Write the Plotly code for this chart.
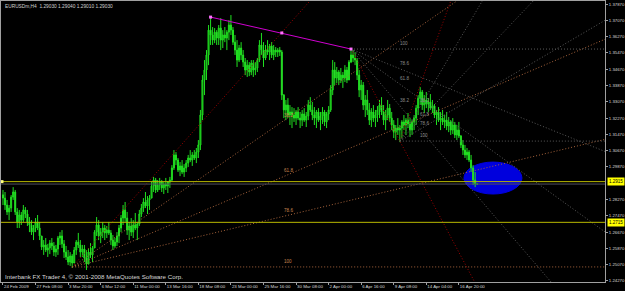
import plotly.graph_objects as go

# ---------------- data (EURUSDm, H4) ----------------
highs = [1.2874,1.2864,1.2825,1.2800,1.2849,1.2888,1.2874,1.2785,1.2776,1.2766,
         1.2800,1.2790,1.2776,1.2741,1.2726,1.2702,1.2736,1.2751,1.2717,1.2648,
         1.2628,1.2638,1.2609,1.2628,1.2638,1.2618,1.2604,1.2648,1.2667,1.2677,
         1.2628,1.2599,1.2579,1.2569,1.2559,1.2594,1.2628,1.2663,1.2628,1.2604,
         1.2604,1.2579,1.2589,1.2613,1.2599,1.2677,1.2741,1.2726,1.2687,1.2717,
         1.2702,1.2697,1.2717,1.2677,1.2653,1.2638,1.2667,1.2702,1.2751,1.2800,
         1.2815,1.2766,1.2717,1.2736,1.2726,1.2761,1.2717,1.2776,1.2805,1.2834,
         1.2864,1.2844,1.2849,1.2913,1.2938,1.2933,1.2923,1.2933,1.2923,1.2913,
         1.2933,1.2918,1.2938,1.2996,1.3070,1.3060,1.3031,1.3011,1.3021,1.3001,
         1.3021,1.3046,1.3070,1.3060,1.3070,1.3080,1.3119,1.3267,1.3438,1.3512,
         1.3561,1.3684,1.3723,1.3674,1.3669,1.3659,1.3684,1.3718,1.3659,1.3674,
         1.3659,1.3708,1.3733,1.3674,1.3635,1.3610,1.3586,1.3600,1.3561,1.3522,
         1.3512,1.3502,1.3512,1.3512,1.3502,1.3522,1.3610,1.3645,1.3600,1.3586,
         1.3610,1.3591,1.3600,1.3586,1.3576,1.3571,1.3576,1.3561,1.3345,1.3316,
         1.3325,1.3291,1.3281,1.3276,1.3267,1.3281,1.3257,1.3267,1.3276,1.3257,
         1.3316,1.3330,1.3306,1.3281,1.3267,1.3276,1.3257,1.3281,1.3267,1.3257,
         1.3286,1.3389,1.3512,1.3502,1.3478,1.3463,1.3473,1.3453,1.3487,1.3478,
         1.3512,1.3566,1.3561,1.3551,1.3522,1.3463,1.3414,1.3404,1.3340,1.3365,
         1.3301,1.3276,1.3291,1.3267,1.3286,1.3316,1.3330,1.3291,1.3267,1.3316,
         1.3296,1.3257,1.3217,1.3193,1.3227,1.3193,1.3217,1.3242,1.3227,1.3252,
         1.3227,1.3217,1.3242,1.3291,1.3340,1.3379,1.3365,1.3340,1.3355,1.3325,
         1.3345,1.3316,1.3296,1.3267,1.3281,1.3257,1.3267,1.3242,1.3257,1.3232,
         1.3217,1.3227,1.3208,1.3193,1.3208,1.3144,1.3119,1.3095,1.3080,1.3070,
         1.3046,1.2996,1.2962,1.2904]
lows = [1.2800,1.2776,1.2751,1.2726,1.2766,1.2825,1.2751,1.2687,1.2687,1.2702,
        1.2717,1.2736,1.2697,1.2667,1.2653,1.2628,1.2667,1.2677,1.2628,1.2579,
        1.2555,1.2569,1.2545,1.2559,1.2579,1.2550,1.2545,1.2555,1.2604,1.2589,
        1.2540,1.2530,1.2505,1.2501,1.2491,1.2520,1.2555,1.2589,1.2545,1.2545,
        1.2520,1.2481,1.2510,1.2540,1.2520,1.2589,1.2648,1.2628,1.2613,1.2638,
        1.2628,1.2638,1.2653,1.2604,1.2579,1.2589,1.2599,1.2613,1.2667,1.2702,
        1.2717,1.2653,1.2628,1.2648,1.2638,1.2677,1.2628,1.2697,1.2741,1.2766,
        1.2785,1.2756,1.2776,1.2834,1.2864,1.2859,1.2864,1.2874,1.2864,1.2854,
        1.2874,1.2859,1.2884,1.2913,1.2972,1.2996,1.2962,1.2942,1.2952,1.2938,
        1.2962,1.2987,1.3011,1.2992,1.3021,1.3006,1.3031,1.3070,1.3217,1.3340,
        1.3414,1.3487,1.3586,1.3586,1.3595,1.3586,1.3586,1.3561,1.3571,1.3600,
        1.3561,1.3610,1.3635,1.3586,1.3537,1.3478,1.3502,1.3512,1.3478,1.3438,
        1.3429,1.3433,1.3438,1.3429,1.3438,1.3453,1.3502,1.3537,1.3478,1.3512,
        1.3537,1.3512,1.3522,1.3512,1.3527,1.3527,1.3532,1.3316,1.3227,1.3217,
        1.3227,1.3193,1.3178,1.3208,1.3193,1.3217,1.3178,1.3188,1.3208,1.3183,
        1.3217,1.3257,1.3217,1.3193,1.3178,1.3208,1.3168,1.3198,1.3188,1.3178,
        1.3217,1.3257,1.3340,1.3389,1.3399,1.3389,1.3399,1.3375,1.3404,1.3399,
        1.3414,1.3497,1.3502,1.3487,1.3414,1.3330,1.3316,1.3267,1.3232,1.3242,
        1.3193,1.3183,1.3208,1.3183,1.3208,1.3227,1.3242,1.3193,1.3168,1.3217,
        1.3208,1.3168,1.3129,1.3119,1.3144,1.3109,1.3129,1.3168,1.3144,1.3178,
        1.3134,1.3144,1.3168,1.3193,1.3242,1.3291,1.3267,1.3252,1.3276,1.3257,
        1.3267,1.3252,1.3227,1.3193,1.3208,1.3168,1.3193,1.3178,1.3168,1.3158,
        1.3144,1.3149,1.3129,1.3119,1.3129,1.3080,1.3046,1.3031,1.3021,1.3011,
        1.2962,1.2898,1.2888,1.2901]
closes = [1.2834,1.2800,1.2766,1.2785,1.2839,1.2864,1.2766,1.2717,1.2751,1.2726,
          1.2776,1.2756,1.2717,1.2702,1.2667,1.2687,1.2717,1.2687,1.2648,1.2594,
          1.2604,1.2579,1.2589,1.2613,1.2599,1.2569,1.2584,1.2638,1.2648,1.2609,
          1.2569,1.2545,1.2520,1.2550,1.2515,1.2579,1.2618,1.2604,1.2569,1.2584,
          1.2540,1.2510,1.2569,1.2555,1.2589,1.2667,1.2702,1.2648,1.2667,1.2687,
          1.2663,1.2677,1.2663,1.2628,1.2599,1.2618,1.2648,1.2687,1.2736,1.2776,
          1.2736,1.2677,1.2697,1.2667,1.2702,1.2687,1.2707,1.2756,1.2785,1.2815,
          1.2795,1.2825,1.2834,1.2893,1.2923,1.2874,1.2898,1.2913,1.2884,1.2903,
          1.2893,1.2913,1.2923,1.2982,1.3046,1.3021,1.2972,1.2992,1.2962,1.2982,
          1.3006,1.3031,1.3021,1.3046,1.3031,1.3060,1.3095,1.3242,1.3414,1.3463,
          1.3537,1.3659,1.3635,1.3610,1.3649,1.3620,1.3669,1.3610,1.3635,1.3620,
          1.3649,1.3684,1.3659,1.3600,1.3561,1.3512,1.3571,1.3537,1.3502,1.3463,
          1.3487,1.3453,1.3497,1.3463,1.3473,1.3512,1.3586,1.3561,1.3522,1.3561,
          1.3551,1.3581,1.3537,1.3561,1.3551,1.3561,1.3551,1.3340,1.3267,1.3291,
          1.3242,1.3257,1.3242,1.3227,1.3257,1.3227,1.3217,1.3247,1.3217,1.3237,
          1.3291,1.3267,1.3242,1.3227,1.3257,1.3217,1.3237,1.3257,1.3208,1.3247,
          1.3267,1.3365,1.3463,1.3424,1.3453,1.3414,1.3438,1.3424,1.3463,1.3414,
          1.3502,1.3537,1.3522,1.3512,1.3438,1.3365,1.3389,1.3291,1.3316,1.3267,
          1.3217,1.3257,1.3227,1.3242,1.3267,1.3291,1.3257,1.3217,1.3242,1.3276,
          1.3227,1.3193,1.3158,1.3178,1.3168,1.3178,1.3208,1.3193,1.3217,1.3198,
          1.3168,1.3208,1.3227,1.3276,1.3325,1.3355,1.3291,1.3316,1.3296,1.3306,
          1.3276,1.3286,1.3242,1.3257,1.3217,1.3227,1.3208,1.3217,1.3188,1.3208,
          1.3168,1.3193,1.3144,1.3168,1.3139,1.3095,1.3070,1.3046,1.3060,1.3021,
          1.2982,1.2923,1.2903,1.2903]
first_open = 1.2850
opens = [first_open] + closes[:-1]
bars = list(range(len(closes)))

x_tick_bars = [0, 16, 32, 48, 64, 80, 96, 112, 128, 144, 160, 176, 192, 208, 224]
x_tick_labels = ["24 Feb 2009", "27 Feb 08:00", "3 Mar 20:00", "6 Mar 12:00", "11 Mar 00:00",
                 "13 Mar 16:00", "18 Mar 08:00", "23 Mar 00:00", "25 Mar 16:00", "30 Mar 08:00",
                 "2 Apr 00:00", "6 Apr 16:00", "9 Apr 08:00", "14 Apr 04:00", "16 Apr 20:00"]
# the 1.29070 label is hidden behind the 1.2915 price box in the reference
y_tick_values = [1.3787, 1.3707, 1.3627, 1.3547, 1.3467, 1.3387, 1.3307, 1.3227, 1.3147,
                 1.3067, 1.2987, 1.2827, 1.2747, 1.2667, 1.2587, 1.2507, 1.2427]

symbol_text = "EURUSDm,H4  1.29030 1.29040 1.29010 1.29030"
copyright_text = "Interbank FX Trader 4, \u00a9 2001-2008 MetaQuotes Software Corp."

# drawing objects (chart objects on the terminal)
hlines = [1.2915, 1.2715]
bid_price = 1.2903
trend_bars = [102, 137, 171]
trend_prices = [1.3723, 1.3645, 1.3566]
fan_levels = [0.0, 0.382, 0.618, 0.786, 1.0]
fan_labels = ["0", "38.2", "61.8", "78.6", "100"]
fans = [
    dict(p1=(34, 1.2496), p2=(138, 1.3659), color="#a8643c", label_color="#c8844f"),
    dict(p1=(171, 1.3566), p2=(195, 1.3114), color="#5a5a5a", label_color="#8a8a8a"),
    dict(p1=(195, 1.3114), p2=(205, 1.3389), color="#5a5a5a", label_color="#8a8a8a"),
]
ellipse_bars = (226.5, 255.0)
ellipse_prices = (1.2854, 1.3011)

# ---------------- figure ----------------
fig = go.Figure()

fig.add_trace(go.Candlestick(
    x=bars, open=opens, high=highs, low=lows, close=closes,
    increasing=dict(line=dict(color="#20e020", width=1), fillcolor="#108a10"),
    decreasing=dict(line=dict(color="#20e020", width=1), fillcolor="#60ff60"),
    whiskerwidth=0, hoverinfo="skip", showlegend=False,
))

annotations = []
XE = 400
for f in fans:
    (x1, y1), (x2, y2) = f["p1"], f["p2"]
    for lv, lab in zip(fan_levels, fan_labels):
        yl = y2 + lv * (y1 - y2)
        ye = y1 + (yl - y1) * (XE - x1) / (x2 - x1)
        col = "#a00000" if lv == 0.0 else f["color"]
        fig.add_trace(go.Scatter(x=[x1, XE], y=[y1, ye], mode="lines",
                                 line=dict(color=col, width=1, dash="1px,2px"),
                                 hoverinfo="skip", showlegend=False))
        if lv > 0:
            annotations.append(dict(x=x2, y=yl, xref="x", yref="y", text=lab,
                                    showarrow=False, xanchor="left", yanchor="bottom",
                                    xshift=-2, yshift=1,
                                    font=dict(family="Liberation Sans", size=4.6,
                                              color=f["label_color"])))

for hp in hlines:
    fig.add_trace(go.Scatter(x=[-5, XE], y=[hp, hp], mode="lines",
                             line=dict(color="#b8b800", width=1),
                             hoverinfo="skip", showlegend=False))
fig.add_trace(go.Scatter(x=[-5, XE], y=[bid_price, bid_price], mode="lines",
                         line=dict(color="#505060", width=1),
                         hoverinfo="skip", showlegend=False))
fig.add_trace(go.Scatter(x=[-0.5], y=[hlines[0]], mode="markers",
                         marker=dict(symbol="square", size=3, color="#ffff80"),
                         hoverinfo="skip", showlegend=False))

fig.add_trace(go.Scatter(x=trend_bars, y=trend_prices, mode="lines+markers",
                         line=dict(color="#d000d0", width=1),
                         marker=dict(symbol="square", size=3, color="#ff70ff"),
                         hoverinfo="skip", showlegend=False))

fig.add_shape(type="circle", xref="x", yref="y",
              x0=ellipse_bars[0], x1=ellipse_bars[1],
              y0=ellipse_prices[0], y1=ellipse_prices[1],
              fillcolor="#0000dd", line=dict(color="#0000dd", width=1), layer="below")

for hp in hlines:
    annotations.append(dict(x=1, y=hp, xref="paper", yref="y", text=f"{hp:.4f}",
                            showarrow=False, xanchor="left", yanchor="middle", xshift=2,
                            bgcolor="#ffff00", borderpad=1,
                            font=dict(family="Liberation Sans", size=4.5, color="#000000")))

annotations.append(dict(x=0, y=1, xref="paper", yref="paper", text=symbol_text,
                        showarrow=False, xanchor="left", yanchor="top", xshift=2, yshift=-1,
                        font=dict(family="Liberation Sans", size=4.8, color="#d0d0d0")))
annotations.append(dict(x=0, y=0, xref="paper", yref="paper", text=copyright_text,
                        showarrow=False, xanchor="left", yanchor="bottom", xshift=2, yshift=0,
                        font=dict(family="Liberation Sans", size=6.2, color="#d8d8d8")))

fig.update_layout(
    width=625, height=291,
    margin=dict(l=1, r=20, t=1, b=9, autoexpand=False),
    paper_bgcolor="#000000", plot_bgcolor="#000000",
    showlegend=False,
    annotations=annotations,
    xaxis=dict(range=[-0.98, 295.8], showgrid=False, zeroline=False, automargin=False,
               rangeslider=dict(visible=False),
               showline=True, mirror=True, linecolor="#a0a0a0", linewidth=1,
               tickmode="array", tickvals=x_tick_bars, ticktext=x_tick_labels,
               ticks="outside", ticklen=2, tickcolor="#a0a0a0", tickangle=0,
               ticklabelposition="outside right",
               tickfont=dict(family="Liberation Sans", size=4.4, color="#d8d8d8")),
    yaxis=dict(range=[1.2422, 1.3802], side="right", showgrid=False, zeroline=False,
               automargin=False,
               showline=True, mirror=True, linecolor="#a0a0a0", linewidth=1,
               tickmode="array", tickvals=y_tick_values, tickformat=".5f",
               ticks="outside", ticklen=2, tickcolor="#a0a0a0", ticklabelstandoff=0,
               tickfont=dict(family="Liberation Sans", size=4.3, color="#d8d8d8")),
)

fig.write_html("out.html")
